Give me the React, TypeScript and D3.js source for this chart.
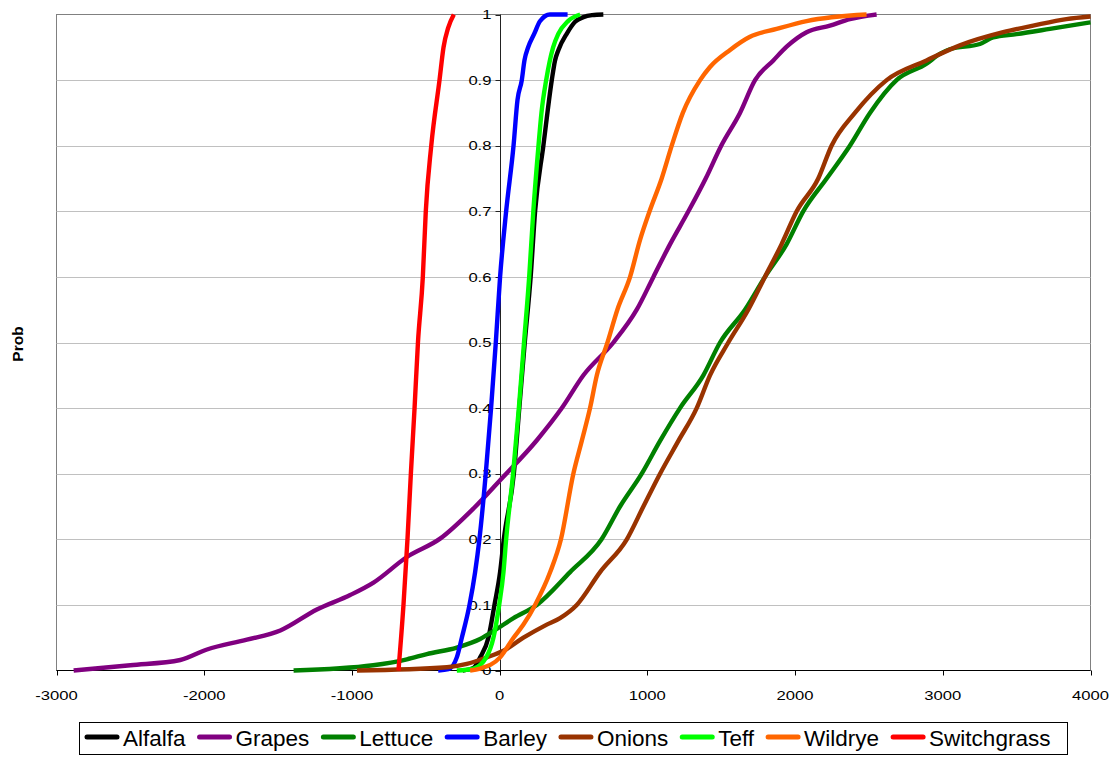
import React, { useEffect, useRef } from 'react';
import * as d3 from 'd3';

// axis ticks
const xTicks = [-3000, -2000, -1000, 0, 1000, 2000, 3000, 4000];
const yTicks = [0, 0.1, 0.2, 0.3, 0.4, 0.5, 0.6, 0.7, 0.8, 0.9, 1];
const yTickLabels = ['0', '0.1', '0.2', '0.3', '0.4', '0.5', '0.6', '0.7', '0.8', '0.9', '1'];

// cumulative curves, [value, prob]
const alfalfa = [
  [-250, 0], [-177, 0.004], [-132, 0.02], [-76, 0.05], [-35, 0.1], [3, 0.15], [28, 0.2],
  [96, 0.3], [133, 0.4], [170, 0.5], [210, 0.6], [240, 0.7], [296, 0.8], [353, 0.9],
  [375, 0.93], [398, 0.946], [455, 0.971], [511, 0.989], [567, 0.996], [625, 0.999], [702, 1],
];
const grapes = [
  [-2884, 0], [-2500, 0.008], [-2162, 0.016], [-1981, 0.032], [-1711, 0.047], [-1485, 0.061],
  [-1237, 0.093], [-1012, 0.115], [-854, 0.134], [-628, 0.173], [-403, 0.201], [-177, 0.247],
  [3, 0.29], [252, 0.351], [421, 0.4], [567, 0.45], [770, 0.5], [928, 0.55], [1041, 0.6],
  [1154, 0.65], [1278, 0.7], [1395, 0.75], [1500, 0.8], [1627, 0.85], [1729, 0.9],
  [1853, 0.93], [1943, 0.951], [2078, 0.973], [2236, 0.983], [2371, 0.993], [2552, 1],
];
const lettuce = [
  [-1395, 0], [-856, 0.008], [-628, 0.017], [-493, 0.025], [-290, 0.035], [-132, 0.048],
  [-42, 0.06], [94, 0.08], [252, 0.1], [477, 0.15], [690, 0.2], [815, 0.25], [962, 0.3],
  [1086, 0.35], [1221, 0.4], [1379, 0.45], [1492, 0.5], [1661, 0.55], [1796, 0.6],
  [1943, 0.65], [2055, 0.7], [2214, 0.75], [2371, 0.8], [2507, 0.85], [2687, 0.9],
  [2890, 0.925], [2980, 0.94], [3048, 0.947], [3251, 0.955], [3341, 0.965], [3499, 0.97],
  [3725, 0.978], [4000, 0.988],
];
const barley = [
  [-416, 0], [-346, 0.002], [-290, 0.02], [-256, 0.05], [-204, 0.1], [-166, 0.15], [-137, 0.2],
  [-94, 0.3], [-58, 0.4], [-26, 0.5], [3, 0.6], [44, 0.7], [94, 0.8], [121, 0.87], [150, 0.9],
  [168, 0.93], [193, 0.95], [233, 0.97], [274, 0.99], [340, 1], [460, 1],
];
const onions = [
  [-966, 0], [-357, 0.005], [-222, 0.01], [-87, 0.02], [26, 0.03], [161, 0.05], [319, 0.07],
  [409, 0.08], [522, 0.1], [680, 0.15], [861, 0.2], [973, 0.25], [1086, 0.3], [1210, 0.35],
  [1334, 0.4], [1424, 0.45], [1548, 0.5], [1683, 0.55], [1796, 0.6], [1909, 0.65],
  [2011, 0.7], [2157, 0.75], [2247, 0.8], [2405, 0.85], [2620, 0.9], [2890, 0.93],
  [3116, 0.953], [3409, 0.973], [3612, 0.983], [3837, 0.993], [4000, 0.997],
];
const teff = [
  [-290, 0], [-177, 0.003], [-91, 0.02], [-42, 0.05], [-3, 0.1], [26, 0.15], [44, 0.2],
  [91, 0.3], [130, 0.4], [165, 0.5], [200, 0.6], [228, 0.7], [263, 0.8], [283, 0.85],
  [315, 0.9], [362, 0.95], [396, 0.97], [463, 0.99], [545, 1],
];
const wildrye = [
  [-200, 0], [-132, 0.003], [3, 0.02], [94, 0.05], [161, 0.07], [240, 0.1], [342, 0.15],
  [415, 0.2], [499, 0.3], [556, 0.35], [612, 0.4], [658, 0.45], [730, 0.5], [797, 0.55],
  [883, 0.6], [950, 0.656], [1015, 0.7], [1097, 0.75], [1165, 0.8], [1240, 0.85],
  [1357, 0.9], [1424, 0.92], [1560, 0.946], [1695, 0.966], [1875, 0.978], [2078, 0.99], [2484, 1],
];
const switchgrass = [
  [-685, 0], [-651, 0.1], [-624, 0.2], [-601, 0.3], [-576, 0.4], [-553, 0.5], [-520, 0.6],
  [-500, 0.7], [-463, 0.8], [-407, 0.9], [-380, 0.95], [-348, 0.98], [-310, 1],
];

const seriesNames = ['Alfalfa', 'Grapes', 'Lettuce', 'Barley', 'Onions', 'Teff', 'Wildrye', 'Switchgrass'];
const seriesColors = ['#000000', '#800080', '#008000', '#0000FF', '#993300', '#00FF00', '#FF6600', '#FF0000'];
const seriesData = [alfalfa, grapes, lettuce, barley, onions, teff, wildrye, switchgrass];

const FONT = '"Liberation Sans", Arial, sans-serif';

export default function App() {
  const chartRef = useRef<SVGSVGElement>(null);

  useEffect(() => {
    const svg = d3.select(chartRef.current);
    svg.selectAll('*').remove();

    const left = 56.5, right = 1090.5, top = 14.5, bottom = 670.5;
    const x = d3.scaleLinear().domain([-3000, 4000]).range([left, right]);
    const y = d3.scaleLinear().domain([0, 1]).range([bottom, top]);
    const stretch = 1.28; // tick labels are drawn wide in the original

    // plot frame
    svg.append('rect')
      .attr('x', left).attr('y', top)
      .attr('width', right - left).attr('height', bottom - top)
      .attr('fill', 'white').attr('stroke', '#808080').attr('stroke-width', 1);

    // gridlines
    svg.append('g').selectAll('line')
      .data(yTicks.filter(t => t > 0 && t < 1))
      .join('line')
      .attr('x1', left).attr('x2', right)
      .attr('y1', d => Math.round(y(d)) + 0.5).attr('y2', d => Math.round(y(d)) + 0.5)
      .attr('stroke', '#c0c0c0').attr('stroke-width', 1);

    // y axis at x = 0
    const x0 = Math.round(x(0)) + 0.5;
    svg.append('line')
      .attr('x1', x0).attr('x2', x0).attr('y1', top).attr('y2', bottom)
      .attr('stroke', '#222').attr('stroke-width', 1);
    svg.append('g').selectAll('line')
      .data(yTicks)
      .join('line')
      .attr('x1', x0 - 5).attr('x2', x0)
      .attr('y1', d => Math.round(y(d)) + 0.5).attr('y2', d => Math.round(y(d)) + 0.5)
      .attr('stroke', '#222');
    svg.append('g').selectAll('g')
      .data(yTicks)
      .join('g')
      .attr('transform', d => `translate(${x0 - 9},${y(d) + 4.7})`)
      .append('text')
      .attr('transform', `scale(${stretch},1)`)
      .attr('text-anchor', 'end')
      .attr('font-family', FONT).attr('font-size', 13).attr('fill', '#000')
      .text((d, i) => yTickLabels[i]);

    // x axis at bottom
    svg.append('line')
      .attr('x1', left).attr('x2', right).attr('y1', bottom).attr('y2', bottom)
      .attr('stroke', '#000').attr('stroke-width', 1);
    svg.append('g').selectAll('line')
      .data(xTicks)
      .join('line')
      .attr('x1', d => Math.round(x(d)) + 0.5).attr('x2', d => Math.round(x(d)) + 0.5)
      .attr('y1', bottom).attr('y2', bottom + 5)
      .attr('stroke', '#000');
    svg.append('g').selectAll('g')
      .data(xTicks)
      .join('g')
      .attr('transform', d => `translate(${x(d)},699.5)`)
      .append('text')
      .attr('transform', `scale(${stretch},1)`)
      .attr('text-anchor', 'middle')
      .attr('font-family', FONT).attr('font-size', 13).attr('fill', '#000')
      .text(d => String(d));

    // y title
    svg.append('text')
      .attr('transform', 'translate(23,344) rotate(-90)')
      .attr('text-anchor', 'middle')
      .attr('font-family', FONT).attr('font-size', 15.5).attr('font-weight', 'bold')
      .text('Prob');

    // curves
    const line = d3.line<number[]>()
      .x(d => x(d[0])).y(d => y(d[1]))
      .curve(d3.curveMonotoneX);
    svg.append('g').selectAll('path')
      .data(seriesData)
      .join('path')
      .attr('d', d => line(d))
      .attr('fill', 'none')
      .attr('stroke', (d, i) => seriesColors[i])
      .attr('stroke-width', 4.4)
      .attr('stroke-linejoin', 'round');

    // legend
    svg.append('rect')
      .attr('x', 79.5).attr('y', 722.5).attr('width', 988).attr('height', 32)
      .attr('fill', 'white').attr('stroke', '#000').attr('stroke-width', 1);
    let cx = 85;
    seriesNames.forEach((name, i) => {
      svg.append('line')
        .attr('x1', cx + 2).attr('x2', cx + 32).attr('y1', 737).attr('y2', 737)
        .attr('stroke', seriesColors[i]).attr('stroke-width', 5).attr('stroke-linecap', 'round');
      const t = svg.append('text')
        .attr('x', cx + 38).attr('y', 746)
        .attr('font-family', FONT).attr('font-size', 22.5).attr('fill', '#000')
        .text(name);
      const w = (t.node() as SVGTextElement).getComputedTextLength();
      cx += 38 + w + 12;
    });
  }, []);

  return (
    <svg ref={chartRef} width={1115} height={757}
      style={{ position: 'absolute', left: 0, top: 0, background: 'white' }} />
  );
}
